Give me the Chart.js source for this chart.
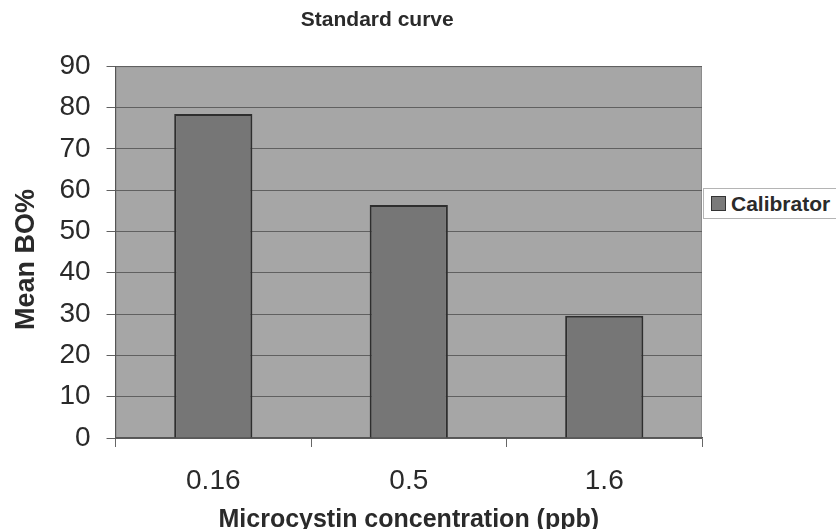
<!DOCTYPE html>
<html>
<head>
<style>
	body { margin: 0; background: #fff; }
	#wrap { position: relative; width: 836px; height: 529px; overflow: hidden; }
	#legend {
		position: absolute; left: 703px; top: 188px; width: 140px; height: 31px;
		border: 1px solid #b4b4b4; background: #fff;
		font: bold 21px "Liberation Sans", Arial, sans-serif; color: #2a2a2a;
		display: flex; align-items: center; box-sizing: border-box; padding-left: 7px;
		white-space: nowrap;
	}
	#legend span.box {
		display: inline-block; width: 13px; height: 13px; background: #7a7a7a;
		border: 1px solid #333; margin-right: 5px;
	}
</style>
</head>
<body>
	<div id="wrap">
		<canvas id="myChart" width="836" height="529"></canvas>
		<div id="legend"><span class="box"></span>Calibrator</div>
	</div>

	<script src="https://cdn.jsdelivr.net/npm/chart.js"></script>

	<script>
		const categories = ['0.16', '0.5', '1.6']
		const calibrator = [78.4, 56.4, 29.6]
		const yTicks = [0, 10, 20, 30, 40, 50, 60, 70, 80, 90]

		const fontFamily = '"Liberation Sans", Arial, sans-serif'

		// grey plot background like the old spreadsheet chart
		const plotBg = {
			id: 'plotBg',
			beforeDraw(chart) {
				const a = chart.chartArea
				const c = chart.ctx
				c.save()
				c.fillStyle = '#a6a6a6'
				c.fillRect(a.left, a.top, a.right - a.left, a.bottom - a.top)
				c.strokeStyle = '#8c8c8c'
				c.lineWidth = 1
				c.strokeRect(a.left + 0.5, a.top + 0.5, a.right - a.left - 1, a.bottom - a.top - 1)
				c.restore()
			}
		}

		const ctx = document.getElementById('myChart')

		const chart = new Chart(ctx, {
			type: 'bar',
			data: {
				labels: categories,
				datasets: [{
					label: 'Calibrator',
					data: calibrator,
					backgroundColor: '#767676',
					borderColor: '#2e2e2e',
					borderWidth: 2,
					barPercentage: 0.4,
					categoryPercentage: 1.0,
				}]
			},
			options: {
				responsive: false,
				animation: false,
				layout: { padding: { top: 0, right: 134, bottom: 0, left: 0 } },
				plugins: {
					legend: { display: false },
					tooltip: { enabled: false },
					title: {
						display: true,
						// leading spaces push the centred title a bit to the right, as in the original
						text: '         Standard curve',
						color: '#2a2a2a',
						font: { family: fontFamily, size: 21, weight: 'bold', lineHeight: 1.2 },
						padding: { top: 8, bottom: 33 }
					}
				},
				scales: {
					x: {
						grid: {
							drawOnChartArea: false,
							drawTicks: true,
							tickLength: 9,
							color: '#666',
							offset: true
						},
						border: { color: '#555', width: 1.5 },
						ticks: { color: '#2a2a2a', font: { family: fontFamily, size: 28, lineHeight: 1 }, padding: 20 },
						title: {
							display: true,
							text: 'Microcystin concentration (ppb)',
							color: '#2a2a2a',
							font: { family: fontFamily, size: 25, weight: 'bold', lineHeight: 1 },
							padding: { top: -7, bottom: -4 }
						}
					},
					y: {
						min: 0,
						max: 90,
						afterBuildTicks(axis) {
							axis.ticks = yTicks.map(v => ({ value: v }))
						},
						grid: { color: '#606060', lineWidth: 1, tickLength: 9 },
						border: { color: '#555', width: 1 },
						ticks: { color: '#2a2a2a', font: { family: fontFamily, size: 28 }, padding: 16 },
						title: {
							display: true,
							// trailing spaces nudge the rotated title down a little
							text: 'Mean BO%  ',
							color: '#2a2a2a',
							font: { family: fontFamily, size: 27, weight: 'bold', lineHeight: 1.2 },
							padding: { top: 10, bottom: 1 }
						}
					}
				}
			},
			plugins: [plotBg]
		})
	</script>
</body>
</html>
